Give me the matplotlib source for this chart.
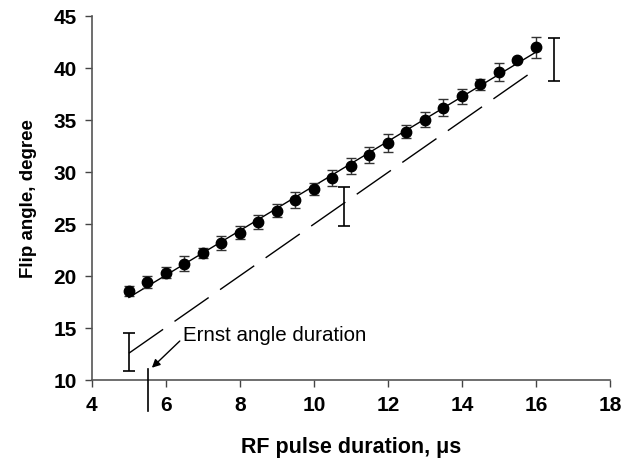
import matplotlib
matplotlib.use("Agg")
import matplotlib.pyplot as plt
import numpy as np

plt.rcParams['font.family'] = ['Liberation Sans', 'DejaVu Sans']

# measured flip angles
duration = [5, 5.5, 6, 6.5, 7, 7.5, 8, 8.5, 9, 9.5, 10, 10.5, 11, 11.5,
            12, 12.5, 13, 13.5, 14, 14.5, 15, 15.5, 16]
flip = [18.6, 19.45, 20.35, 21.2, 22.25, 23.2, 24.2, 25.2, 26.3, 27.3, 28.4,
        29.45, 30.6, 31.65, 32.8, 33.9, 35.05, 36.2, 37.3, 38.45, 39.6, 40.8, 42.0]
flip_err = [0.5, 0.6, 0.5, 0.7, 0.5, 0.7, 0.6, 0.7, 0.6, 0.75, 0.6, 0.8, 0.8,
            0.75, 0.9, 0.6, 0.7, 0.8, 0.7, 0.5, 0.85, 0.0, 1.0]

# nominal (dashed) line and its uncertainty bars
nominal_x = [5, 16]
nominal_y = [12.6, 39.9]
nom_err_x = [5, 10.8, 16.5]
nom_err_lo = [10.9, 24.8, 38.8]
nom_err_hi = [14.5, 28.6, 42.9]

ernst_x = 5.52
ernst_tick = [11.05, 7.0]

fig = plt.figure(figsize=(6.34, 4.62), dpi=100)
ax = fig.add_axes([0.145, 0.177, 0.817, 0.788])

x = np.array(duration)
y = np.array(flip)
e = np.array(flip_err)

# linear fit through the measured points
k, b = np.polyfit(x, y, 1)
ax.plot(x[[0, -1]], k * x[[0, -1]] + b, color='black', lw=1.0, zorder=2)

has_err = e > 0
ax.errorbar(x[has_err], y[has_err], yerr=e[has_err], fmt='none',
            ecolor='#333333', elinewidth=1.0, capsize=3.8, capthick=1.0, zorder=3)
ax.plot(x, y, 'o', color='black', markersize=7.5, zorder=4)

ax.plot(nominal_x, nominal_y, color='black', lw=1.0, dashes=(30, 10), zorder=2)

lo = np.array(nom_err_lo)
hi = np.array(nom_err_hi)
mid = (lo + hi) / 2
ax.errorbar(nom_err_x, mid, yerr=(hi - lo) / 2, fmt='none', ecolor='black',
            elinewidth=1.2, capsize=4.5, capthick=1.2, zorder=3)

# Ernst angle marker, extends below the axis
ax.plot([ernst_x, ernst_x], ernst_tick, color='black', lw=1.2, clip_on=False, zorder=5)
ax.annotate('Ernst angle duration', xy=(ernst_x + 0.1, 11.2), xytext=(6.45, 14.3),
            fontsize=14.8, va='center', ha='left',
            arrowprops=dict(arrowstyle='-|>', color='black', lw=1.0,
                            mutation_scale=12, shrinkA=0, shrinkB=0,
                            relpos=(0, 0.35)))

ax.set_xlim(4, 18)
ax.set_ylim(10, 45)
ax.set_xticks(range(4, 19, 2))
ax.set_yticks(range(10, 46, 5))
ax.tick_params(direction='out', length=5, width=1.0, color='#444444',
               labelsize=15, pad=6)
for lab in ax.get_xticklabels() + ax.get_yticklabels():
    lab.set_fontweight('bold')

for s in ['top', 'right']:
    ax.spines[s].set_visible(False)
for s in ['left', 'bottom']:
    ax.spines[s].set_color('#555555')
    ax.spines[s].set_linewidth(1.2)

ax.set_xlabel('RF pulse duration, μs', fontsize=15.5, fontweight='bold', labelpad=16)
ax.set_ylabel('Flip angle, degree', fontsize=13.5, fontweight='bold', labelpad=12)

fig.savefig('out.png', dpi=100)
